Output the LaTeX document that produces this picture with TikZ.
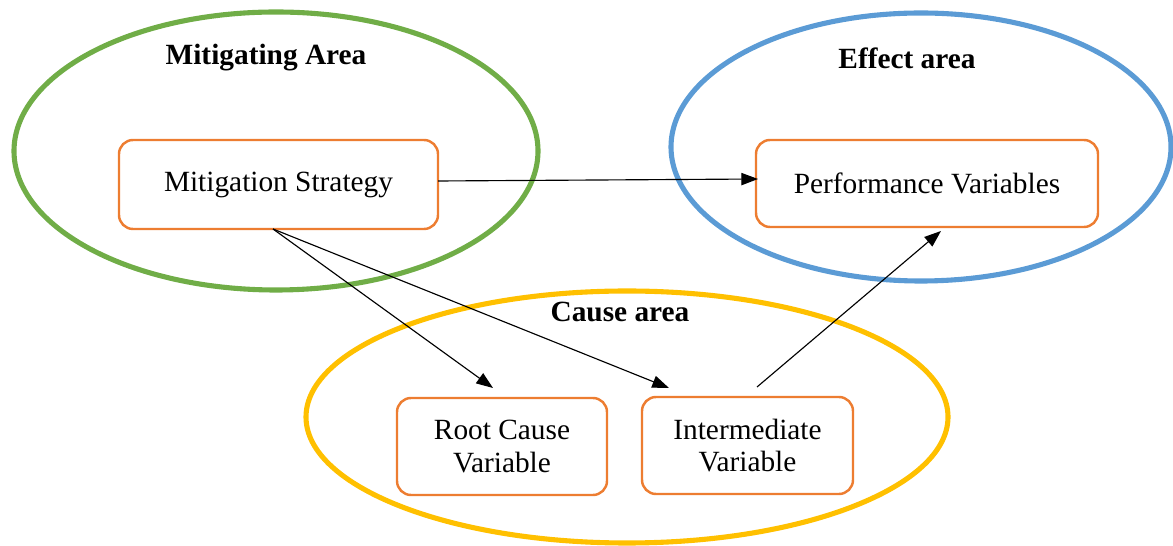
\documentclass[tikz,border=0pt]{standalone}
\usepackage{fontspec}
\setmainfont{Liberation Serif}
\usetikzlibrary{arrows.meta}
\definecolor{cgreen}{HTML}{70AD47}
\definecolor{cblue}{HTML}{5B9BD5}
\definecolor{cyellow}{HTML}{FFC000}
\definecolor{corange}{HTML}{ED7D31}
\begin{document}
\begin{tikzpicture}[x=0.02cm,y=-0.02cm,
  area/.style={line width=2.9pt},
  varbox/.style={draw=corange,line width=1.4pt,rounded corners=8pt,fill=white,align=center,font=\fontsize{16.7}{18.3}\selectfont,inner sep=0pt},
  title/.style={font=\fontsize{16.7}{18.3}\selectfont\bfseries},
  conn/.style={-{Triangle[length=9.5pt,width=7pt]},line width=0.65pt,black}]
\useasboundingbox (0,0) rectangle (1173,546);
\draw[area,cgreen] (276,151) ellipse [x radius=262,y radius=139];
\draw[area,cblue] (921,147) ellipse [x radius=250,y radius=134];
\draw[area,cyellow] (627,417) ellipse [x radius=321,y radius=126];
\node[varbox,minimum width=319*0.02cm,minimum height=89*0.02cm] (ms) at (278.5,184.5) {Mitigation Strategy};
\node[varbox,minimum width=342*0.02cm,minimum height=87*0.02cm] (pv) at (927,183.5) {Performance Variables};
\node[varbox,minimum width=210*0.02cm,minimum height=97*0.02cm] (rc) at (502,446.5) {Root Cause\\Variable};
\node[varbox,minimum width=211*0.02cm,minimum height=97*0.02cm] (iv) at (747.5,445.5) {Intermediate\\Variable};
\node[title] (t1) at (266,58) {Mitigating Area};
\node[title] (t2) at (907,58) {Effect area};
\node[title] (t3) at (620,312) {Cause area};
\coordinate (msa) at (438,181);
\coordinate (pva) at (758,179);
\coordinate (mss) at (273,229);
\coordinate (rct) at (493,388);
\coordinate (ivt) at (669,388);
\coordinate (ivs) at (757,387);
\coordinate (pvt) at (941,231);
\draw[conn] (msa) -- (pva);
\draw[conn] (mss) -- (rct);
\draw[conn] (mss) -- (ivt);
\draw[conn] (ivs) -- (pvt);
\end{tikzpicture}
\end{document}
